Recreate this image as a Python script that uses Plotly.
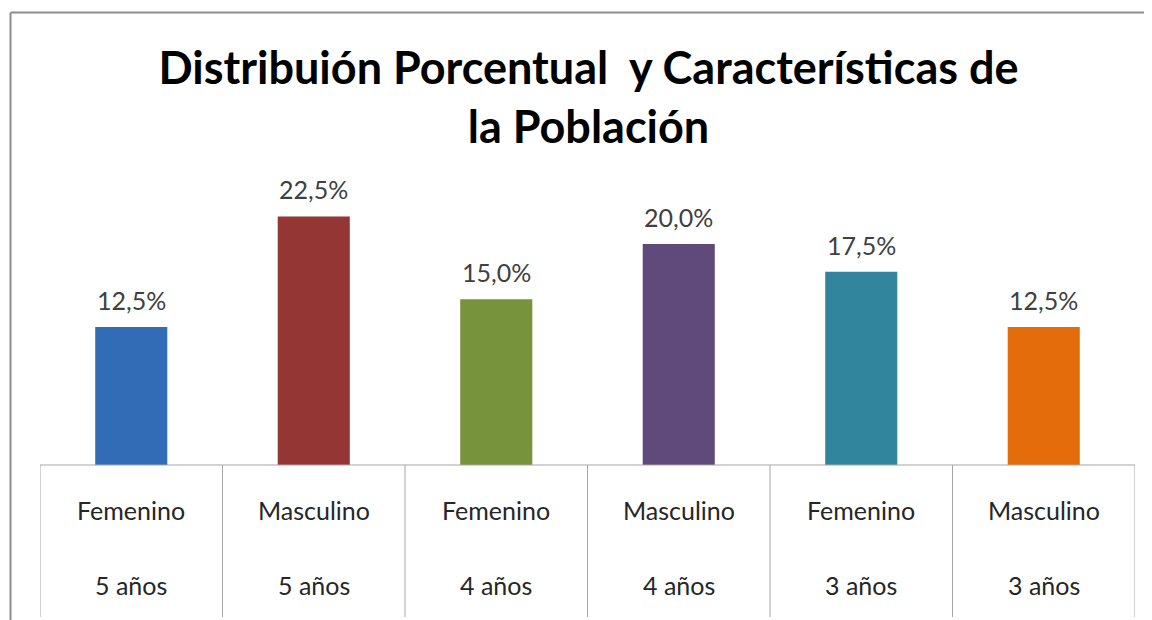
import plotly.graph_objects as go

# ---- data ----
sexo = ["Femenino", "Masculino", "Femenino", "Masculino", "Femenino", "Masculino"]
edad = ["5 años", "5 años", "4 años", "4 años", "3 años", "3 años"]
porcentaje = [0.125, 0.225, 0.150, 0.200, 0.175, 0.125]
colores = ["#336cb6", "#943634", "#77933c", "#604a7b", "#31859c", "#e46c0a"]

n = len(sexo)

OFF = 8  # page body margin
W, H = 1152 - OFF, 620 - OFF
# plot area in reference pixel coords: x 40..1135, y 189..465
L = 40 - OFF
R = 1152 - 1135
T = 189 - OFF
B = 620 - 465
plot_w = W - L - R
plot_h = H - T - B

def px_x(p):  # reference pixel x -> paper
    return (p - OFF - L) / plot_w

def px_y(p):  # reference pixel y -> paper
    return (H - B - (p - OFF)) / plot_h

fig = go.Figure()
fig.add_trace(go.Bar(
    x=list(range(n)),
    y=porcentaje,
    marker=dict(color=colores, line=dict(width=0)),
    width=0.395,
    hoverinfo="skip",
))

line_col = "#a6a6a6"
shapes = []
for i in range(n + 1):
    shapes.append(dict(type="line", xref="x", yref="paper",
                       x0=i - 0.5, x1=i - 0.5, y0=0, y1=px_y(617),
                       line=dict(color=line_col, width=1)))
shapes.append(dict(type="line", xref="x", yref="paper",
                   x0=-0.5, x1=n - 0.5, y0=0, y1=0,
                   line=dict(color=line_col, width=1)))
shapes.append(dict(type="line", xref="paper", yref="paper",
                   x0=px_x(10.5), x1=px_x(1160), y0=px_y(12.5), y1=px_y(12.5),
                   line=dict(color="#8c8c8c", width=2)))
shapes.append(dict(type="line", xref="paper", yref="paper",
                   x0=px_x(10.5), x1=px_x(10.5), y0=px_y(12.5), y1=px_y(630),
                   line=dict(color="#8c8c8c", width=2)))

annotations = []
for i, (s, e, v) in enumerate(zip(sexo, edad, porcentaje)):
    annotations.append(dict(x=i, y=v, xref="x", yref="y", text=f"{v*100:.1f}%".replace(".", ","),
                            showarrow=False, yanchor="bottom", yshift=10,
                            font=dict(family="Lato", size=25, color="#404040")))
    annotations.append(dict(x=i, y=px_y(510), xref="x", yref="paper", text=s,
                            showarrow=False, yanchor="middle",
                            font=dict(family="Lato", size=25, color="#262626")))
    annotations.append(dict(x=i, y=px_y(585), xref="x", yref="paper", text=e,
                            showarrow=False, yanchor="middle",
                            font=dict(family="Lato", size=25, color="#262626")))

fig.update_layout(
    width=W, height=H,
    margin=dict(l=L, r=R, t=T, b=B),
    paper_bgcolor="white", plot_bgcolor="white",
    separators=",.",
    title=dict(text="Distribuión Porcentual \u00a0y Características de<br>la Población",
               x=px_x(588.5), xref="paper", xanchor="center",
               y=1 - (84 - OFF) / H, yanchor="middle",
               font=dict(family="Lato", size=45, color="black", weight="bold")),
    xaxis=dict(range=[-0.5, n - 0.5], showticklabels=False, showgrid=False,
               zeroline=False, showline=False, ticks=""),
    yaxis=dict(range=[0, plot_h / 11.05 / 100], visible=False, showgrid=False,
               zeroline=False),
    shapes=shapes,
    annotations=annotations,
    showlegend=False,
    bargap=0.6,
)

fig.write_html("out.html")
